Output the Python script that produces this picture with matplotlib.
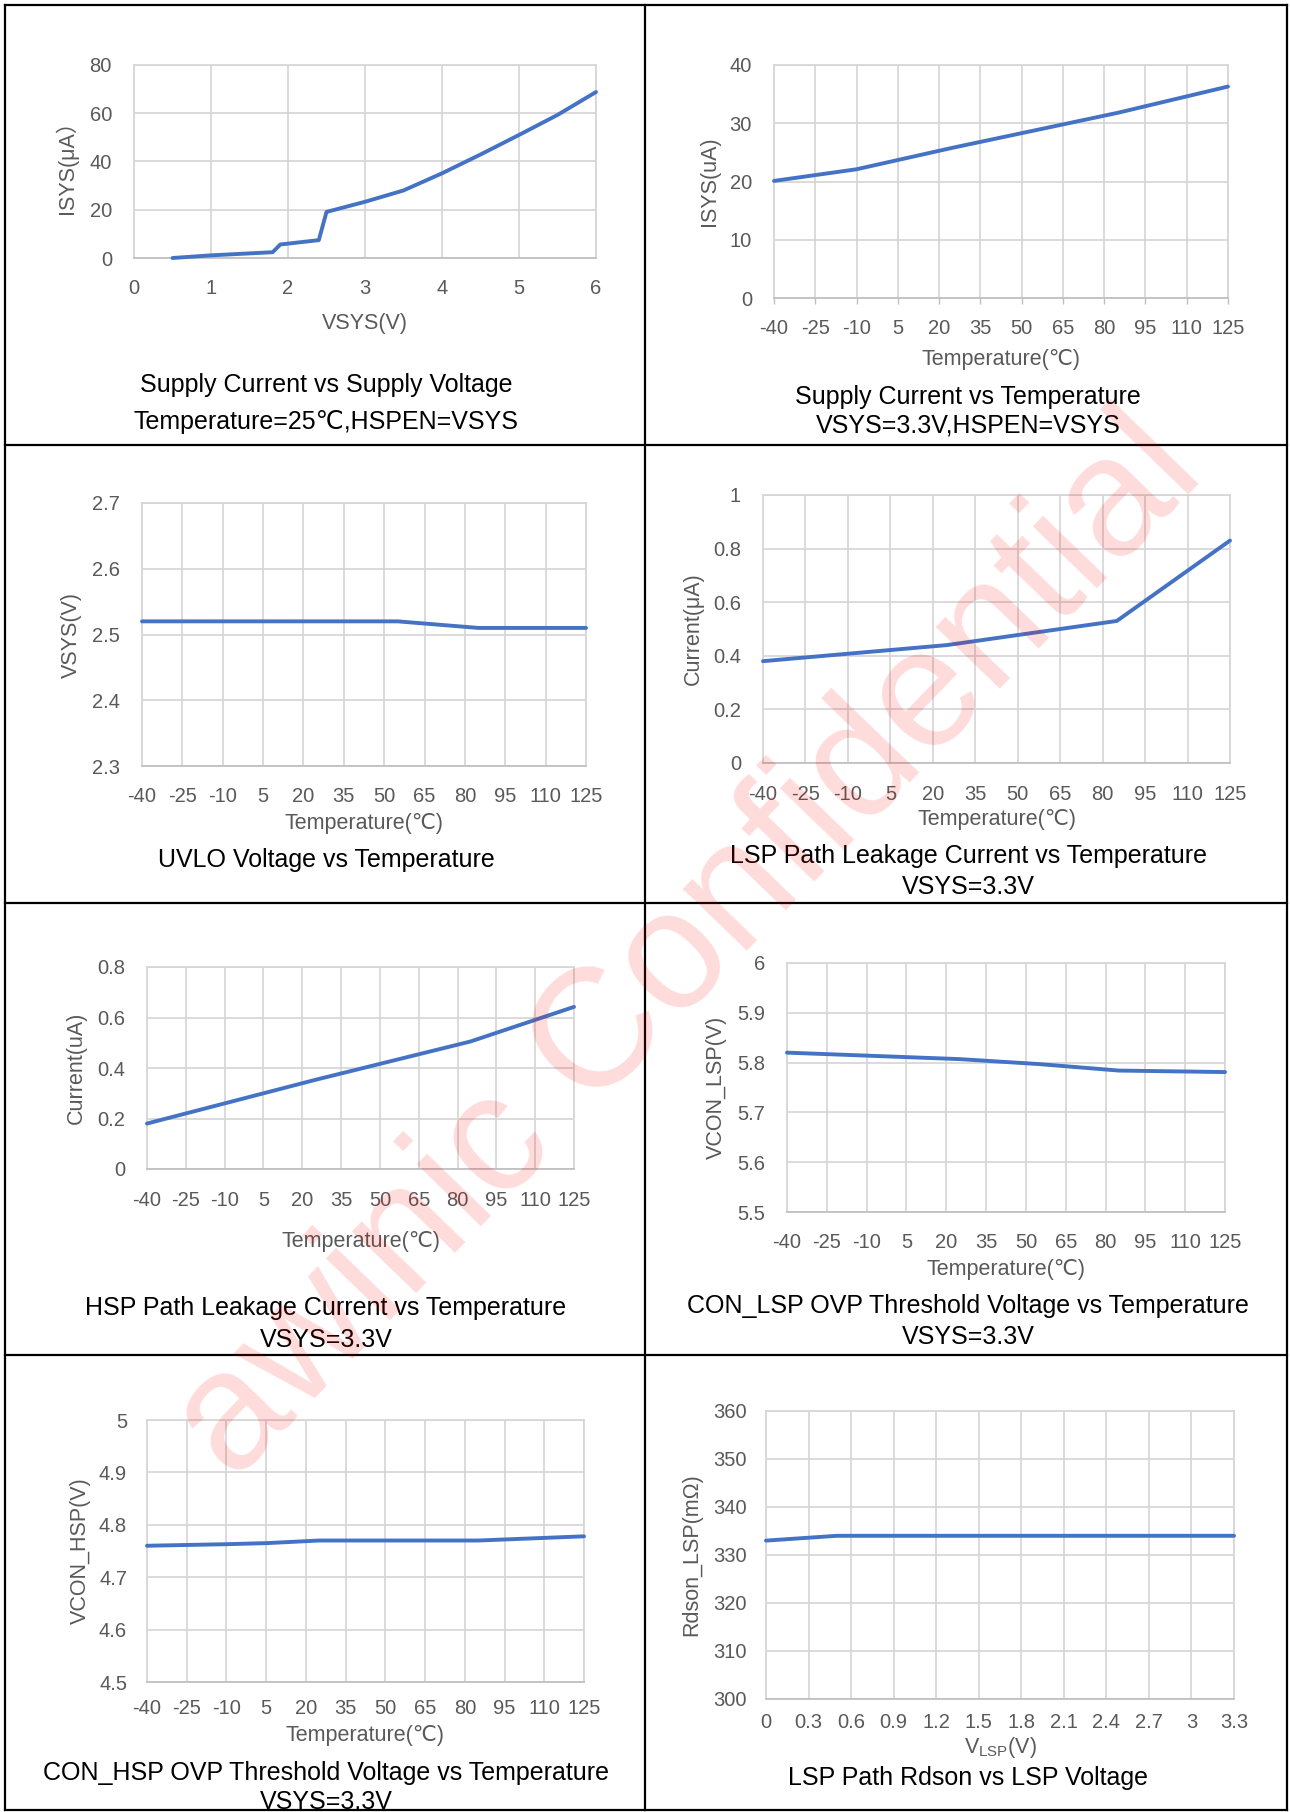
import matplotlib
matplotlib.use("Agg")
import matplotlib.pyplot as plt
from matplotlib.lines import Line2D

plt.rcParams['font.family'] = ['Liberation Sans', 'DejaVu Sans', 'Noto Sans CJK SC']
plt.rcParams['mathtext.fontset'] = 'custom'
plt.rcParams['mathtext.rm'] = 'Liberation Sans'

# ---------------- data ----------------
# Panel 1: Supply current vs supply voltage
p1_v = [0.5, 1.0, 1.8, 1.9, 2.4, 2.5, 3.0, 3.5, 4.0, 4.5, 5.0, 5.5, 6.0]
p1_i = [0.0, 1.1, 2.4, 5.6, 7.4, 19.1, 23.3, 28.0, 35.1, 42.9, 51.0, 59.3, 68.8]
p1_xticks = [0, 1, 2, 3, 4, 5, 6]
p1_yticks = [0, 20, 40, 60, 80]

# Temperature axis shared by the temperature panels
temp_ticks = [-40, -25, -10, 5, 20, 35, 50, 65, 80, 95, 110, 125]

# Panel 2: Supply current vs temperature
p2_t = [-40, -10, 25, 85, 125]
p2_i = [20.1, 22.1, 25.8, 31.8, 36.3]
p2_yticks = [0, 10, 20, 30, 40]

# Panel 3: UVLO voltage vs temperature
p3_t = [-40, 25, 55, 85, 125]
p3_v = [2.52, 2.52, 2.52, 2.51, 2.51]
p3_yticks = [2.3, 2.4, 2.5, 2.6, 2.7]

# Panel 4: LSP path leakage current vs temperature
p4_t = [-40, 25, 85, 125]
p4_i = [0.38, 0.44, 0.53, 0.83]
p4_yticks = [0, 0.2, 0.4, 0.6, 0.8, 1.0]

# Panel 5: HSP path leakage current vs temperature
p5_t = [-40, 25, 85, 125]
p5_i = [0.18, 0.353, 0.505, 0.642]
p5_yticks = [0, 0.2, 0.4, 0.6, 0.8]

# Panel 6: CON_LSP OVP threshold vs temperature
p6_t = [-40, 25, 55, 85, 125]
p6_v = [5.82, 5.807, 5.797, 5.784, 5.781]
p6_yticks = [5.5, 5.6, 5.7, 5.8, 5.9, 6.0]

# Panel 7: CON_HSP OVP threshold vs temperature
p7_t = [-40, -10, 5, 25, 55, 85, 125]
p7_v = [4.76, 4.763, 4.765, 4.77, 4.77, 4.77, 4.778]
p7_yticks = [4.5, 4.6, 4.7, 4.8, 4.9, 5.0]

# Panel 8: LSP path Rdson vs LSP voltage
p8_v = [0.0, 0.5, 1.0, 1.5, 2.0, 2.5, 3.0, 3.3]
p8_r = [333, 334, 334, 334, 334, 334, 334, 334]
p8_xticks = [0, 0.3, 0.6, 0.9, 1.2, 1.5, 1.8, 2.1, 2.4, 2.7, 3.0, 3.3]
p8_yticks = [300, 310, 320, 330, 340, 350, 360]

# ---------------- layout ----------------
W, H = 1290, 1812
DPI = 100
fig = plt.figure(figsize=(W / DPI, H / DPI), dpi=DPI)
fig.patch.set_facecolor('white')

LINE_C = '#4472C4'
GRID_C = '#D6D6D6'
AXIS_C = '#BFBFBF'
TXT_C = '#595959'
TICK_FS = 14.5
LABEL_FS = 15.5
TITLE_FS = 18
PX2PT = 72.0 / DPI


def fmt(v):
    return f"{v:g}"


def panel(box, x, y, xlim, xticks, ylim, yticks, xlabel, ylabel,
          xtick_y, xlabel_y, ylabel_x, ytick_gap=22, tickmarks=False):
    l, r, t, b = box
    ax = fig.add_axes([l / W, 1 - b / H, (r - l) / W, (b - t) / H])
    ax.set_xlim(*xlim)
    ax.set_ylim(*ylim)
    ax.set_xticks(xticks)
    ax.set_xticklabels([fmt(v) for v in xticks])
    ax.set_yticks(yticks)
    ax.set_yticklabels([fmt(v) for v in yticks])
    ax.grid(True, color=GRID_C, lw=1.25)
    ax.set_axisbelow(True)
    for s in ['left', 'right', 'top']:
        ax.spines[s].set_color(GRID_C)
        ax.spines[s].set_linewidth(1.25)
    ax.spines['bottom'].set_color(AXIS_C)
    ax.spines['bottom'].set_linewidth(1.25)
    tl = 6 if tickmarks else 0
    ax.tick_params(axis='x', length=tl * PX2PT, width=1.0, color=AXIS_C,
                   labelsize=TICK_FS, labelcolor=TXT_C,
                   pad=(xtick_y - b - tl) * PX2PT)
    ax.tick_params(axis='y', length=0, labelsize=TICK_FS, labelcolor=TXT_C,
                   pad=ytick_gap * PX2PT)
    for lbl in ax.get_xticklabels():
        lbl.set_va('center')
    ax.plot(x, y, color=LINE_C, lw=2.8, solid_joinstyle='round',
            solid_capstyle='round', clip_on=False, zorder=3)
    ax.set_xlabel(xlabel, fontsize=LABEL_FS, color=TXT_C)
    ax.xaxis.label.set_va('center')
    ax.xaxis.set_label_coords(0.5, (b - xlabel_y) / (b - t))
    ax.set_ylabel(ylabel, fontsize=LABEL_FS, color=TXT_C)
    ax.yaxis.label.set_va('center')
    ax.yaxis.set_label_coords((ylabel_x - l) / (r - l), 0.5)
    return ax


def title(cx, cy, s):
    fig.text(cx / W, 1 - cy / H, s, ha='center', va='center',
             fontsize=TITLE_FS, color='black')


T = 'Temperature(℃)'

panel((134, 596, 65, 258), p1_v, p1_i, (0, 6), p1_xticks, (0, 80), p1_yticks,
      'VSYS(V)', 'ISYS(μA）', 289, 323, 66)
title(326, 385, 'Supply Current vs Supply Voltage')
title(326, 422, 'Temperature=25℃,HSPEN=VSYS')

panel((774, 1228, 65, 298), p2_t, p2_i, (-40, 125), temp_ticks, (0, 40), p2_yticks,
      T, 'ISYS(uA)', 329, 359, 709, tickmarks=True)
title(968, 397, 'Supply Current vs Temperature')
title(968, 425, 'VSYS=3.3V,HSPEN=VSYS')

panel((142, 586, 503, 766), p3_t, p3_v, (-40, 125), temp_ticks, (2.3, 2.7), p3_yticks,
      T, 'VSYS(V)', 797, 824, 71)
title(326, 860, 'UVLO Voltage vs Temperature')

panel((763, 1230, 495, 763), p4_t, p4_i, (-40, 125), temp_ticks, (0, 1.0), p4_yticks,
      T, 'Current(μA)', 794, 819, 693)
title(968, 856, 'LSP Path Leakage Current vs Temperature')
title(968, 887, 'VSYS=3.3V')

panel((147, 574, 967, 1169), p5_t, p5_i, (-40, 125), temp_ticks, (0, 0.8), p5_yticks,
      T, 'Current(uA)', 1201, 1241, 76)
title(326, 1308, 'HSP Path Leakage Current vs Temperature')
title(326, 1340, 'VSYS=3.3V')

panel((787, 1225, 963, 1212), p6_t, p6_v, (-40, 125), temp_ticks, (5.5, 6.0), p6_yticks,
      T, 'VCON_LSP(V)', 1243, 1270, 716)
title(968, 1306, 'CON_LSP OVP Threshold Voltage vs Temperature')
title(968, 1337, 'VSYS=3.3V')

panel((147, 584, 1420, 1682), p7_t, p7_v, (-40, 125), temp_ticks, (4.5, 5.0), p7_yticks,
      T, 'VCON_HSP(V)', 1708, 1736, 80, ytick_gap=20)
title(326, 1773, 'CON_HSP OVP Threshold Voltage vs Temperature')
title(326, 1802, 'VSYS=3.3V')

panel((766, 1234, 1411, 1699), p8_v, p8_r, (0, 3.3), p8_xticks, (300, 360), p8_yticks,
      r'V$_\mathregular{LSP}$(V)', 'Rdson_LSP(mΩ)', 1723, 1747, 692, ytick_gap=19)
title(968, 1778, 'LSP Path Rdson vs LSP Voltage')

# ---------------- frame ----------------
def hline(y, x0=5, x1=1287):
    fig.add_artist(Line2D([x0 / W, x1 / W], [1 - y / H, 1 - y / H],
                          color='black', lw=1.6))


def vline(x, y0=5, y1=1810):
    fig.add_artist(Line2D([x / W, x / W], [1 - y0 / H, 1 - y1 / H],
                          color='black', lw=1.6))


for yy in [5, 445, 903, 1355, 1810]:
    hline(yy)
for xx in [5, 645, 1287]:
    vline(xx)

# ---------------- watermark ----------------
fig.text(720 / W, 1 - 979 / H, 'awinic Confidential', rotation=46,
         rotation_mode='anchor', ha='center', va='baseline', fontsize=121,
         color='red', alpha=0.14, zorder=10)

fig.savefig('out.png', dpi=DPI)
